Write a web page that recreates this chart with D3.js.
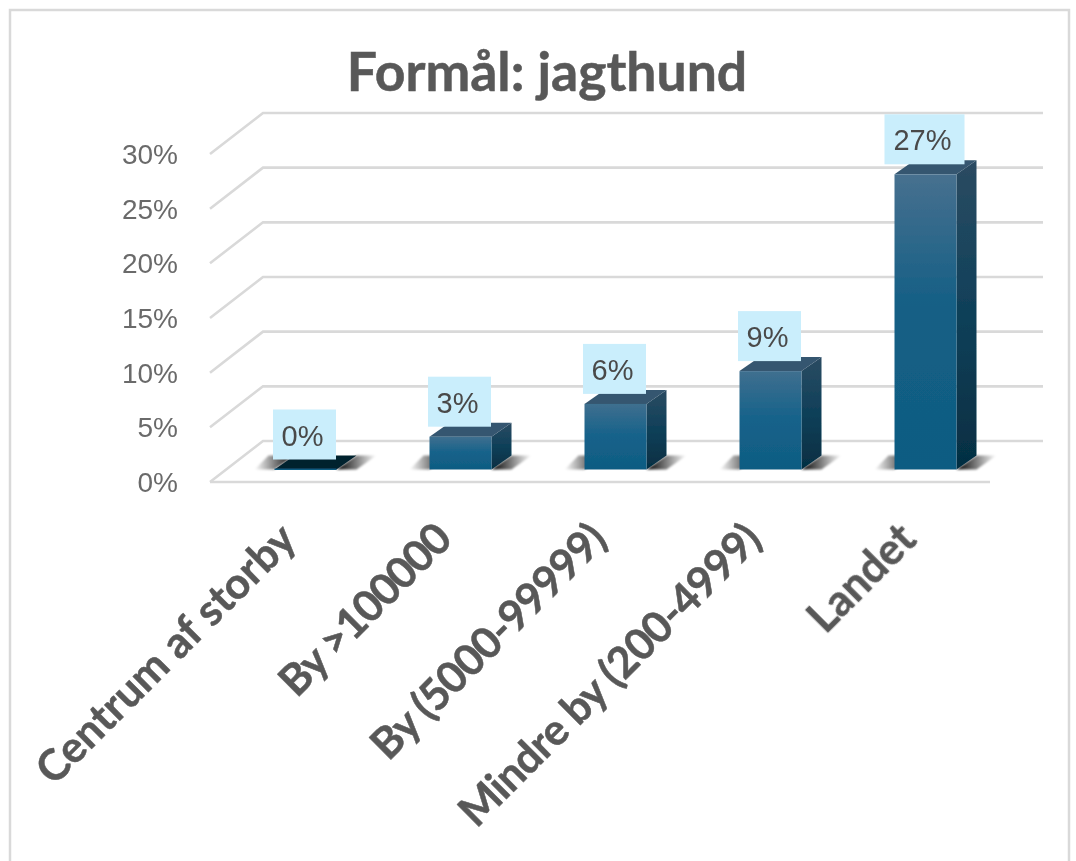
<!DOCTYPE html>
<html><head><meta charset="utf-8">
<script src="https://cdn.jsdelivr.net/npm/d3@7/dist/d3.min.js"></script>
<style>html,body{margin:0;padding:0;background:#fff}svg{display:block}</style>
</head><body><svg id="c" width="1076" height="861"></svg>
<script>
const categories = ["Centrum af storby","By >100000","By (5000-99999)","Mindre by (200-4999)","Landet"];
const values = [0,3,6,9,27];
const tickValues = [0,5,10,15,20,25,30];
const titleText = "Formål: jagthund";

const svg = d3.select("#c");
const defs = svg.append("defs");
const blur = defs.append("filter").attr("id","soft").attr("x","-10%").attr("y","-10%").attr("width","120%").attr("height","120%");
blur.append("feGaussianBlur").attr("stdDeviation",0.7);
const shBlur = defs.append("filter").attr("id","shBlur").attr("x","-20%").attr("y","-20%").attr("width","140%").attr("height","140%");
shBlur.append("feGaussianBlur").attr("stdDeviation",1.2);
const front = defs.append("linearGradient").attr("id","front").attr("x1",0).attr("x2",0).attr("y1",0).attr("y2",1);
const frontShort = defs.append("linearGradient").attr("id","frontShort").attr("x1",0).attr("x2",0).attr("y1",0).attr("y2",1);
[[0,"#47708f"],[0.45,"#145f85"],[1,"#0f5c82"]].forEach(s=>front.append("stop").attr("offset",s[0]).attr("stop-color",s[1]));
[[0,"#3f6f8f"],[0.5,"#15628a"],[1,"#0f5c82"]].forEach(s=>frontShort.append("stop").attr("offset",s[0]).attr("stop-color",s[1]));
const side = defs.append("linearGradient").attr("id","side").attr("x1",0).attr("x2",0).attr("y1",0).attr("y2",1);
[[0,"#2b4b62"],[0.5,"#0f4059"],[1,"#052e42"]].forEach(s=>side.append("stop").attr("offset",s[0]).attr("stop-color",s[1]));
const shL = defs.append("linearGradient").attr("id","shL").attr("x1",0).attr("x2",1).attr("y1",0).attr("y2",0);
[[0,"#000",0],[1,"#000",1]].forEach(s=>shL.append("stop").attr("offset",s[0]).attr("stop-color",s[1]).attr("stop-opacity",s[2]));
const shR = defs.append("linearGradient").attr("id","shR").attr("x1",0).attr("x2",1).attr("y1",0).attr("y2",0);
[[0,"#000",1],[1,"#000",0]].forEach(s=>shR.append("stop").attr("offset",s[0]).attr("stop-color",s[1]).attr("stop-opacity",s[2]));

// frame
svg.append("path").attr("d","M10,861V10H1069V861").attr("fill","none").attr("stroke","#d9d9d9").attr("stroke-width",2.5);

const font = "'Liberation Sans', Arial, sans-serif";
const boldFont = "Lato,'Open Sans',sans-serif";

const y = d3.scaleLinear().domain([0,30]).range([482,154]);
const depthX = 53, depthY = -41;
const floorL = 210, floorR = 990;
const chart = svg.append("g").attr("filter","url(#soft)");

// walls / gridlines
const grid = chart.append("g").attr("fill","none").attr("stroke","#d9d9d9").attr("stroke-width",2.6);
tickValues.forEach(t=>{
  const yf = y(t);
  grid.append("path").attr("d",`M${floorL},${yf}L${floorL+depthX},${yf+depthY}L${floorR+depthX},${yf+depthY}`);
});
grid.append("path").attr("d",`M${floorL},${y(0)}L${floorR},${y(0)}`);

// bars
const x = d3.scaleBand().domain(categories).range([228,1003]);
const bw = 62, dx = 20, dy = -14, base = 469.5;
const xc = i => x(categories[i]) + x.bandwidth()/2;
const h = d3.scaleLinear().domain([0,30]).range([0,y(0)-y(30)]);
const g = chart.selectAll(".bar").data(values).join("g").attr("class","bar");
g.each(function(v,i){
  const s = d3.select(this);
  const x0 = xc(i)-bw/2, top = base-h(v);
  // floor shadow
  s.append("path").attr("filter","url(#shBlur)").attr("d",`M${x0-20},${base}L${x0},${base}L${x0+dx},${base+dy}L${x0-6},${base+dy}Z`).attr("fill","url(#shL)");
  s.append("path").attr("filter","url(#shBlur)").attr("d",`M${x0+bw},${base}L${x0+bw+dx},${base+dy}L${x0+bw+dx+20},${base+dy}L${x0+bw+20},${base}Z`).attr("fill","url(#shR)");
  if(v===0){
    s.append("path").attr("d",`M${x0},${base}L${x0+dx},${base+dy}H${x0+bw+dx}L${x0+bw},${base}Z`).attr("fill","#03202f");
    s.append("rect").attr("x",x0).attr("y",base-1).attr("width",bw).attr("height",1.5).attr("fill","#0f5c82");
    return;
  }
  s.append("path").attr("d",`M${x0+bw},${top}L${x0+bw+dx},${top+dy}V${base+dy}L${x0+bw},${base}Z`).attr("fill","url(#side)");
  s.append("path").attr("d",`M${x0},${top}L${x0+dx},${top+dy}H${x0+bw+dx}L${x0+bw},${top}Z`).attr("fill","#35566f");
  s.append("rect").attr("x",x0).attr("y",top).attr("width",bw).attr("height",h(v)).attr("fill",v>20?"url(#front)":"url(#frontShort)");
});

// data labels
const lab = chart.selectAll(".lab").data(values).join("g").attr("class","lab");
lab.each(function(v,i){
  const s = d3.select(this);
  const cx = xc(i)-1, top = base-h(v);
  const w = v>=10 ? 80 : 63;
  s.append("rect").attr("x",cx-w/2).attr("y",top-60).attr("width",w).attr("height",50).attr("fill","#caeefc");
  s.append("text").attr("x",cx-2).attr("y",top-24).attr("text-anchor","middle").attr("font-family",font).attr("font-size",29).attr("fill","#4a4a4a").text(v+"%");
});
// y labels
chart.append("g").selectAll("text").data(tickValues).join("text")
  .attr("x",178).attr("y",d=>y(d)+10).attr("text-anchor","end")
  .attr("font-family",font).attr("font-size",28).attr("fill","#6a6a6a").text(d=>d+"%");

// x labels (digits in the reference face are narrower than in Lato)
chart.append("g").selectAll("text").data(categories).join("text")
  .attr("transform",(d,i)=>`translate(${xc(i)-7},${542}) rotate(-45)`)
  .attr("text-anchor","end").attr("font-family",boldFont).attr("font-weight",700).attr("font-size",43)
  .attr("letter-spacing",d=>/\d/.test(d)?(-13/d.length):0)
  .attr("stroke","#595959").attr("stroke-width",0.5).attr("fill","#595959").text(d=>d);

// title
chart.append("text").attr("x",547).attr("y",91).attr("text-anchor","middle").attr("font-family",boldFont).attr("font-weight",700).attr("font-size",53.5)
  .attr("stroke","#595959").attr("stroke-width",0.5).attr("fill","#595959").text(titleText);
</script></body></html>
